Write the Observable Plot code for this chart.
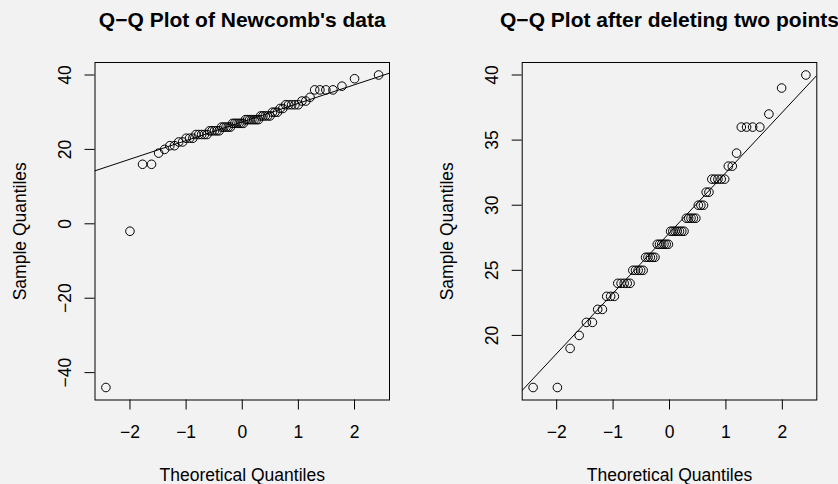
<!DOCTYPE html>
<html><head><meta charset="utf-8">
<script src="https://cdn.jsdelivr.net/npm/d3@7"></script>
<script src="https://cdn.jsdelivr.net/npm/@observablehq/plot@0.6"></script>
<style>
html,body{margin:0;padding:0;background:#f2f2f2;}
#wrap{display:flex;width:838px;height:484px;overflow:hidden;}
svg{display:block;flex:none;}
</style></head><body><div id="wrap"></div>
<script>
// Newcomb's measurements of the passage time of light (deviations)
const newcomb = [28, 26, 33, 24, 34, -44, 27, 16, 40, -2,
  29, 22, 24, 21, 25, 30, 23, 29, 31, 19,
  24, 20, 36, 32, 36, 28, 25, 21, 28, 29,
  37, 25, 28, 26, 30, 32, 36, 26, 30, 22,
  36, 23, 27, 27, 28, 27, 31, 27, 26, 33,
  26, 32, 32, 24, 39, 28, 24, 25, 32, 25,
  29, 27, 28, 29, 16, 23];
const deletedPoints = [-44, -2];
const titles = ["Q\u2212Q Plot of Newcomb's data", "Q\u2212Q Plot after deleting two points"];
const xLabel = "Theoretical Quantiles";
const yLabel = "Sample Quantiles";
const xTicks = [-2, -1, 0, 1, 2];
const yTicksLeft = [-40, -20, 0, 20, 40];
const yTicksRight = [20, 25, 30, 35, 40];

// inverse normal CDF (Acklam)
function qnorm(p) {
  const a = [-3.969683028665376e+01, 2.209460984245205e+02, -2.759285104469687e+02, 1.383577518672690e+02, -3.066479806614716e+01, 2.506628277459239e+00];
  const b = [-5.447609879822406e+01, 1.615858368580409e+02, -1.556989798598866e+02, 6.680131188771972e+01, -1.328068155288572e+01];
  const c = [-7.784894002430293e-03, -3.223964580411365e-01, -2.400758277161838e+00, -2.549732539343734e+00, 4.374664141464968e+00, 2.938163982698783e+00];
  const d = [7.784695709041462e-03, 3.224671290700398e-01, 2.445134137142996e+00, 3.754408661907416e+00];
  const pl = 0.02425, ph = 1 - pl;
  let q, r;
  if (p < pl) { q = Math.sqrt(-2 * Math.log(p)); return (((((c[0]*q+c[1])*q+c[2])*q+c[3])*q+c[4])*q+c[5]) / ((((d[0]*q+d[1])*q+d[2])*q+d[3])*q+1); }
  if (p <= ph) { q = p - 0.5; r = q * q; return (((((a[0]*r+a[1])*r+a[2])*r+a[3])*r+a[4])*r+a[5])*q / (((((b[0]*r+b[1])*r+b[2])*r+b[3])*r+b[4])*r+1); }
  q = Math.sqrt(-2 * Math.log(1 - p)); return -(((((c[0]*q+c[1])*q+c[2])*q+c[3])*q+c[4])*q+c[5]) / ((((d[0]*q+d[1])*q+d[2])*q+d[3])*q+1);
}

const FONT = "'Liberation Sans', Arial, Helvetica, sans-serif";
const FS = 17.5;
const fmt = v => (v < 0 ? "\u2212" : "") + Math.abs(v);

function panel(values, title, yTicks, mLeft, mRight) {
  const y = values.slice().sort(d3.ascending);
  const n = y.length;
  const pts = y.map((v, i) => ({x: qnorm((i + 0.5) / n), y: v}));
  const ext = (lo, hi) => [lo - (hi - lo) * 0.04, hi + (hi - lo) * 0.04];
  const xd = ext(pts[0].x, pts[n - 1].x);
  const yd = ext(y[0], y[n - 1]);
  const q1 = d3.quantile(y, 0.25), q3 = d3.quantile(y, 0.75);
  const x1 = qnorm(0.25), x3 = qnorm(0.75);
  const slope = (q3 - q1) / (x3 - x1), intercept = q1 - slope * x1;
  const lineData = xd.map(x => ({x, y: intercept + slope * x}));
  return Plot.plot({
    width: 419, height: 484,
    marginLeft: mLeft, marginRight: mRight, marginTop: 62, marginBottom: 84.5,
    style: {background: "#f2f2f2", fontFamily: FONT, fontSize: FS + "px", color: "black", overflow: "visible"},
    x: {domain: xd},
    y: {domain: yd},
    marks: [
      Plot.line(lineData, {x: "x", y: "y", stroke: "black", strokeWidth: 1, clip: true}),
      Plot.dot(pts, {x: "x", y: "y", r: 4.3, stroke: "black", strokeWidth: 1, fill: "none"}),
      Plot.frame({stroke: "black", strokeWidth: 1}),
      Plot.axisX({ticks: xTicks, tickFormat: fmt, tickSize: 10, tickPadding: 16, label: null, fontSize: FS, stroke: "black"}),
      Plot.axisY({ticks: yTicks, tickFormat: fmt, tickSize: 10, tickPadding: 14.5, tickRotate: -90, label: null, fontSize: FS, stroke: "black"}),
      Plot.text([title], {frameAnchor: "top", dy: -36, lineAnchor: "bottom", text: d => d, fontSize: 21, fontWeight: "bold", fill: "black"}),
      Plot.text([xLabel], {frameAnchor: "bottom", dy: 81, lineAnchor: "bottom", text: d => d, fontSize: FS, fill: "black"}),
      Plot.text([yLabel], {frameAnchor: "left", dx: -69, rotate: -90, lineAnchor: "bottom", textAnchor: "middle", text: d => d, fontSize: FS, fill: "black"})
    ]
  });
}

const trimmed = newcomb.filter(v => !deletedPoints.includes(v));
const wrap = document.getElementById("wrap");
wrap.appendChild(panel(newcomb, titles[0], yTicksLeft, 94.5, 30));
wrap.appendChild(panel(trimmed, titles[1], yTicksRight, 102.7, 21.7));
</script>
</body></html>
